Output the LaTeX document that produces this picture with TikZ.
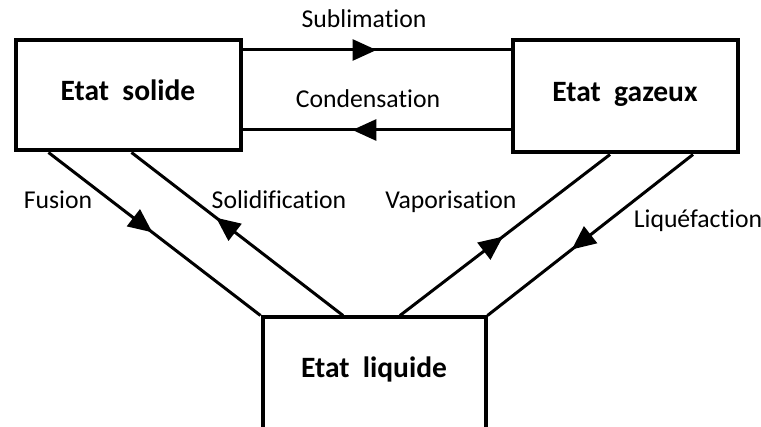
\documentclass[tikz,border=0pt]{standalone}
\usepackage{fontspec}
\setmainfont[Ligatures=NoCommon]{Carlito}
\usetikzlibrary{arrows.meta,decorations.markings,calc}
\tikzset{
  statebox/.style={draw, line width=4pt, rectangle, inner sep=0pt,
    font=\fontsize{29.5}{32}\selectfont\bfseries, text height=10pt, text depth=0pt},
  lbl/.style={font=\fontsize{25.7}{30}\selectfont, anchor=base, inner sep=0pt},
  flow/.style={line width=3pt, postaction={decorate},
    decoration={markings, mark=at position #1 with {\arrow{Triangle[length=24pt,width=21pt]}}}}
}
\begin{document}
\begin{tikzpicture}[x=1pt,y=-1pt]
\useasboundingbox (0,0) rectangle (761,427);
\node[statebox, minimum width=225pt, minimum height=110pt] (solid) at (128,95.5) {Etat\ \ solide};
\node[statebox, minimum width=225pt, minimum height=112pt] (gas) at (625,96.5) {Etat\ \ gazeux};
\node[statebox, minimum width=223pt, minimum height=130pt, anchor=north] (liquid) at (374,315.5) {\raisebox{10pt}{Etat\ \ liquide}};

\draw[flow=0.5] (solid.east |- 0,50) -- (gas.west |- 0,50);
\draw[flow=0.59] (gas.west |- 0,130) -- (solid.east |- 0,130);
\draw[flow=0.49] ($(solid.south west)+(35,0)$) -- (liquid.north west);
\draw[flow=0.6] ($(liquid.north west)+(82.5,0)$) -- ($(solid.south west)+(118,0)$);
\draw[flow=0.49] ($(liquid.north west)+(139.5,0)$) -- ($(gas.south west)+(99.5,0)$);
\draw[flow=0.59] ($(gas.south west)+(182.5,0)$) -- (liquid.north east);

\node[lbl] (lsub) at (364,28) {Sublimation};
\node[lbl] (lcond) at (368,108) {Condensation};
\node[lbl] (lfus) at (58,209) {Fusion};
\node[lbl] (lsol) at (279,209) {Solidification};
\node[lbl] (lvap) at (451,209) {Vaporisation};
\node[lbl] (lliq) at (698,228) {Liquéfaction};
\end{tikzpicture}
\end{document}
